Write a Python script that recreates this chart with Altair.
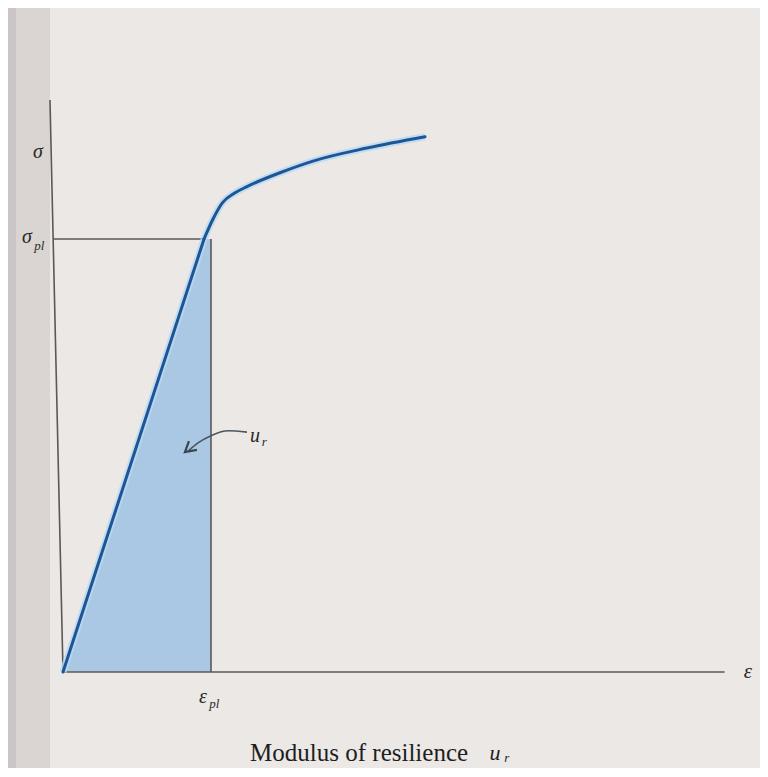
import altair as alt
import pandas as pd

# ---- data (strain in units of eps_pl, stress in units of sigma_pl) ----
strain = [0.0, 0.953, 1.012, 1.078, 1.160, 1.243, 1.466, 1.689, 2.054, 2.446]
stress = [0.0, 1.0, 1.045, 1.084, 1.106, 1.121, 1.153, 1.180, 1.210, 1.236]

shade_strain = [0.0, 0.953, 1.0]
shade_stress = [0.0, 1.0, 1.0]

eps_pl = 1.0
sig_pl = 1.0
x_axis_end = 4.47
y_axis_strain = [0.0, -0.088]
y_axis_stress = [0.0, 1.321]

leader_strain = [1.243, 1.115, 1.007, 0.912, 0.845]
leader_stress = [0.554, 0.557, 0.547, 0.529, 0.510]
arrow_strain = [0.905, 0.824, 0.851]
arrow_stress = [0.513, 0.508, 0.533]

label_text = ["σ", "σ", "pl", "ε", "ε", "pl", "u", "r"]
label_x = [-0.169, -0.243, -0.160, 4.628, 0.946, 1.022, 1.297, 1.360]
label_y = [1.201, 1.004, 0.984, 0.0, -0.058, -0.074, 0.545, 0.531]
label_size = [20, 20, 13, 21, 20, 13, 20, 13]

caption_text = "Modulus of resilience"
caption_x, caption_y = 1.264, -0.187
caption_sym = ["u", "r"]
caption_sym_x = [2.919, 2.998]
caption_sym_y = [-0.187, -0.198]
caption_sym_size = [22, 13]

# ---- layout: map data to page pixels ----
W, H = 752, 760
X0, Y0, PXE, PXS = 63, 672, 148, 433
emin = (8 - X0) / PXE
emax = emin + W / PXE
smax = (Y0 - 8) / PXS
smin = smax - H / PXS

xs = alt.Scale(domain=[emin, emax], nice=False, zero=False)
ys = alt.Scale(domain=[smin, smax], nice=False, zero=False)


def X(f="x"):
    return alt.X(f, type="quantitative", scale=xs, axis=None)


def Y(f="y"):
    return alt.Y(f, type="quantitative", scale=ys, axis=None)


bg = pd.DataFrame({
    "x": [emin, (16 - X0) / PXE],
    "x2": [(16 - X0) / PXE, (50 - X0) / PXE],
    "y": [smin, smin], "y2": [smax, smax],
    "c": ["#cbc6c5", "#dad5d3"],
})
bg_layer = alt.Chart(bg).mark_rect().encode(
    x=X(), x2="x2", y=Y(), y2="y2", color=alt.Color("c:N", scale=None)
)

shade = pd.DataFrame({"x": shade_strain, "y": shade_stress})
shade_layer = alt.Chart(shade).mark_area(color="#a6c6e4", opacity=0.95, line=False).encode(
    x=X(), y=Y(), y2=alt.datum(0)
)

elastic = pd.DataFrame({"x": strain[:2], "y": stress[:2]})
plastic = pd.DataFrame({"x": strain[1:], "y": stress[1:]})

layers_curve = []
for df, interp in [(elastic, "linear"), (plastic, "monotone")]:
    layers_curve.append(alt.Chart(df).mark_line(
        color="#b9daf3", strokeWidth=7, interpolate=interp, opacity=0.8
    ).encode(x=X(), y=Y()))
for df, interp in [(elastic, "linear"), (plastic, "monotone")]:
    layers_curve.append(alt.Chart(df).mark_line(
        color="#1d5596", strokeWidth=3, interpolate=interp, strokeCap="round"
    ).encode(x=X(), y=Y()))

axes = pd.DataFrame({
    "x": [0.0, y_axis_strain[1], 0.0, x_axis_end, -0.066, shade_strain[1], eps_pl, eps_pl],
    "y": [y_axis_stress[0], y_axis_stress[1], 0.0, 0.0, sig_pl, sig_pl, 0.0, sig_pl],
    "g": ["ya", "ya", "xa", "xa", "h", "h", "v", "v"],
    "o": [0, 1, 0, 1, 0, 1, 0, 1],
})
axes_layer = alt.Chart(axes).mark_line(color="#5a5858", strokeWidth=1.6).encode(
    x=X(), y=Y(), detail="g:N", order="o:Q"
)

leader = pd.DataFrame({"x": leader_strain, "y": leader_stress})
leader_layer = alt.Chart(leader).mark_line(
    color="#4a5560", strokeWidth=1.6, interpolate="monotone"
).encode(x=X(), y=Y())
arrow = pd.DataFrame({"x": arrow_strain, "y": arrow_stress, "o": [0, 1, 2]})
arrow_layer = alt.Chart(arrow).mark_line(color="#3a4652", strokeWidth=2.2).encode(
    x=X(), y=Y(), order="o:Q"
)

labels = pd.DataFrame({"t": label_text, "x": label_x, "y": label_y, "s": label_size})
label_layer = alt.Chart(labels).mark_text(
    font="Liberation Serif", fontStyle="italic", color="#2a2a2a", align="center", baseline="middle"
).encode(x=X(), y=Y(), text="t:N", size=alt.Size("s:Q", scale=None, legend=None))

cap = pd.DataFrame({"t": [caption_text], "x": [caption_x], "y": [caption_y]})
cap_layer = alt.Chart(cap).mark_text(
    font="Liberation Serif", fontSize=25, color="#1e1e1e", align="left", baseline="middle"
).encode(x=X(), y=Y(), text="t:N")

capsym = pd.DataFrame({"t": caption_sym, "x": caption_sym_x, "y": caption_sym_y, "s": caption_sym_size})
capsym_layer = alt.Chart(capsym).mark_text(
    font="Liberation Serif", fontStyle="italic", color="#1e1e1e", align="center", baseline="middle"
).encode(x=X(), y=Y(), text="t:N", size=alt.Size("s:Q", scale=None, legend=None))

chart = alt.layer(
    bg_layer, shade_layer, axes_layer, *layers_curve,
    leader_layer, arrow_layer, label_layer, cap_layer, capsym_layer
).properties(
    width=W, height=H, padding=0,
    autosize=alt.AutoSizeParams(type="none"),
    background="#ebe8e6",
).configure_view(stroke=None)

chart.save("out.html", embed_options={"renderer": "svg", "actions": False})
